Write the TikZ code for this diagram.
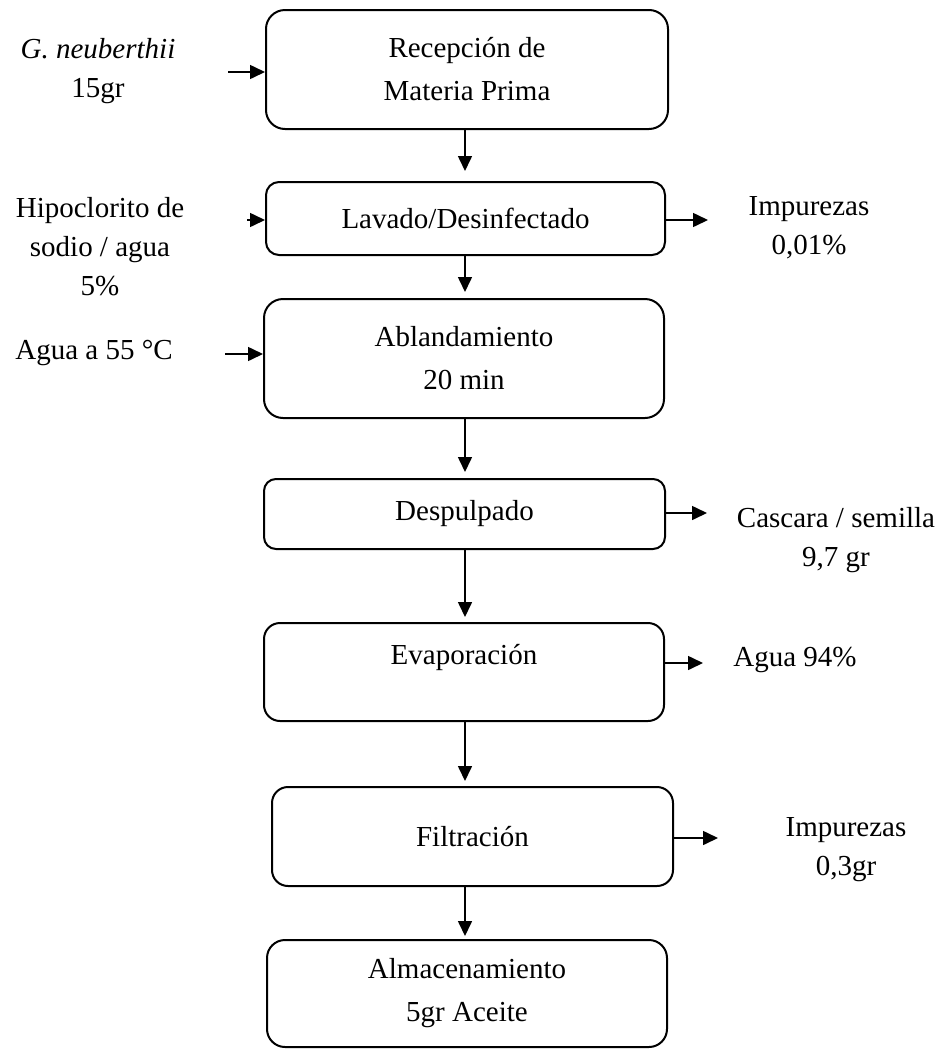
\documentclass[tikz,border=0pt]{standalone}
\usepackage{fontspec}
\setmainfont{Liberation Serif}
\usetikzlibrary{arrows.meta}
\begin{document}
\begin{tikzpicture}[x=1pt,y=-1pt,
  box/.style={draw, line width=2pt, align=center, inner sep=0pt,
    font=\fontsize{29}{43}\selectfont},
  lbl/.style={align=center, inner sep=0pt, font=\fontsize{29}{39}\selectfont},
  arr/.style={line width=1.6pt, -{Triangle[length=15pt,width=14pt]}}]
\useasboundingbox (0,0) rectangle (947,1050);
% process boxes
\node[box, rounded corners=19pt, minimum width=402pt, minimum height=119pt] (rec) at (467,69.5) {Recepción de\\Materia Prima};
\node[box, rounded corners=13pt, minimum width=399pt, minimum height=73pt] (lav) at (465.5,218.5) {Lavado/Desinfectado};
\node[box, rounded corners=19pt, minimum width=400pt, minimum height=119pt] (abl) at (464,358.5) {Ablandamiento\\20 min};
\node[box, rounded corners=12pt, minimum width=401pt, minimum height=70pt] (des) at (464.5,514) {Despulpado};
\node[box, rounded corners=16pt, minimum width=400pt, minimum height=98pt] (eva) at (464,672) {};
\node[lbl] (evatxt) at (464,657) {Evaporación};
\node[box, rounded corners=16pt, minimum width=401pt, minimum height=99pt] (fil) at (472.5,836.5) {Filtración};
\node[box, rounded corners=18pt, minimum width=400pt, minimum height=107pt] (alm) at (467,993.5) {Almacenamiento\\5gr Aceite};
% side labels
\node[lbl] (l1) at (98,71.5) {\textit{G. neuberthii}\\15gr};
\node[lbl] (l2) at (100,247) {Hipoclorito de\\sodio / agua\\5\%};
\node[lbl] (l3) at (94,353) {Agua a 55 °C};
\node[lbl] (r1) at (809,227.5) {Impurezas\\0,01\%};
\node[lbl] (r2) at (836,540) {Cascara / semilla\\9,7 gr};
\node[lbl] (r3) at (795,660) {Agua 94\%};
\node[lbl] (r4) at (846,850) {Impurezas\\0,3gr};
% axis and free ends
\coordinate (ax) at (465,0);
\coordinate (i1) at (228,72);
\coordinate (i2) at (247,220);
\coordinate (i3) at (225,354);
\coordinate (o1) at (708,220);
\coordinate (o2) at (707,513);
\coordinate (o3) at (703,663);
\coordinate (o4) at (718,838);
% main flow
\draw[arr, shorten >=10pt] (rec.south -| ax) -- (lav.north -| ax);
\draw[arr, shorten >=6pt] (lav.south -| ax) -- (abl.north -| ax);
\draw[arr, shorten >=6pt] (abl.south -| ax) -- (des.north -| ax);
\draw[arr, shorten >=5pt] (des.south -| ax) -- (eva.north -| ax);
\draw[arr, shorten >=5pt] (eva.south -| ax) -- (fil.north -| ax);
\draw[arr, shorten >=3pt] (fil.south -| ax) -- (alm.north -| ax);
% inputs
\draw[arr] (i1) -- (i1 -| rec.west);
\draw[arr] (i2) -- (i2 -| lav.west);
\draw[arr] (i3) -- (i3 -| abl.west);
% outputs
\draw[arr] (o1 -| lav.east) -- (o1);
\draw[arr] (o2 -| des.east) -- (o2);
\draw[arr] (o3 -| eva.east) -- (o3);
\draw[arr] (o4 -| fil.east) -- (o4);
\end{tikzpicture}
\end{document}
